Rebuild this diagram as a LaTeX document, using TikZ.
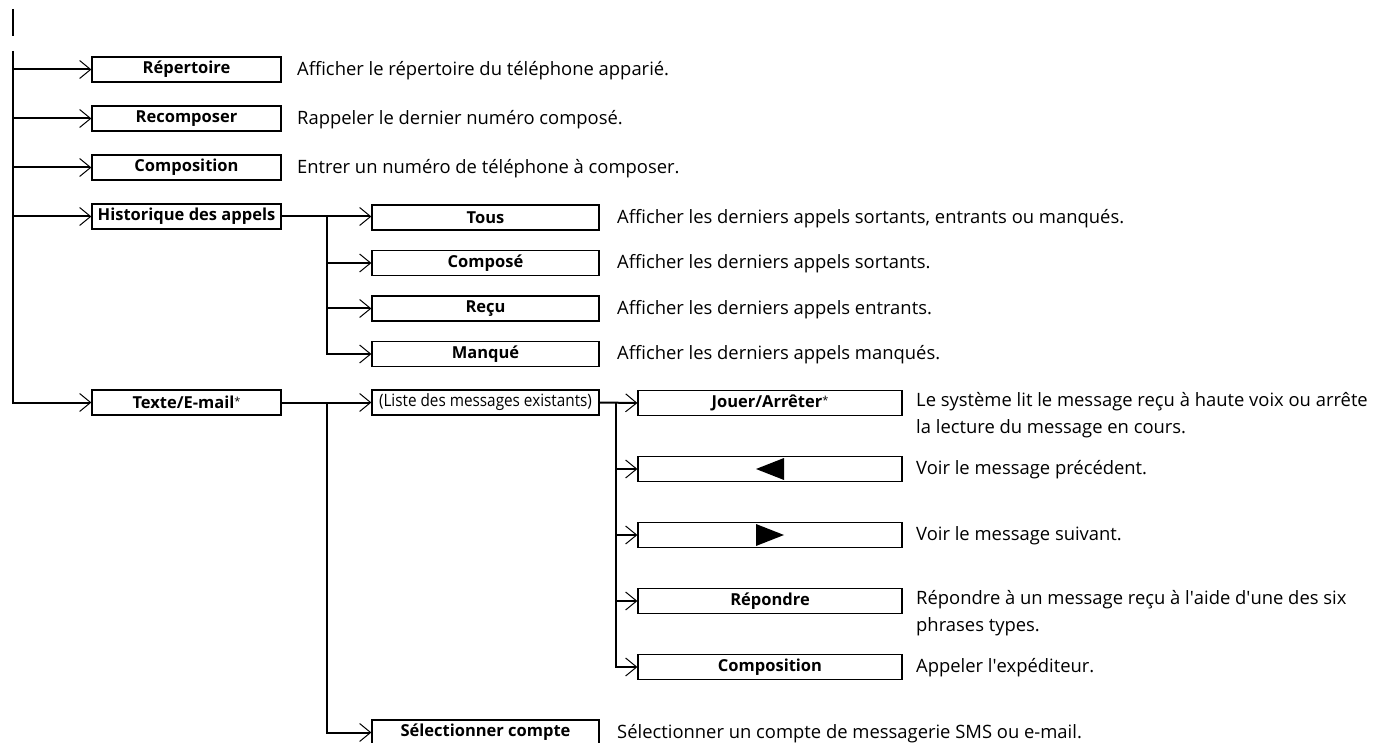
\documentclass[tikz,border=0pt]{standalone}
\usepackage{fontspec}
\setmainfont{Open Sans}
\usetikzlibrary{arrows.meta}
\newcommand{\myast}{{\normalfont\fontsize{11}{11}\selectfont\raisebox{3pt}{*}}}
\begin{document}
\begin{tikzpicture}[x=1pt,y=-1pt,
  box/.style={draw,line width=1.2pt,minimum height=25pt,inner sep=0pt,font=\fontsize{16.5}{18}\selectfont\bfseries},
  bA/.style={box,minimum width=189pt},
  bB/.style={box,minimum width=227pt},
  bC/.style={box,minimum width=264pt},
  desc/.style={anchor=west,inner sep=0pt,font=\fontsize{18.4}{27.5}\selectfont},
  conn/.style={line width=2pt},
  arr/.style={conn,-{Straight Barb[length=11pt,width=18pt,line width=1pt]}},
]
\useasboundingbox (0,0) rectangle (1387,743);
% markers
\coordinate (m1) at (13,9);
\coordinate (m2) at (13,36);
\coordinate (t0) at (13,51);
\coordinate (hj) at (327,0);
\coordinate (lj) at (616,0);
\draw[conn] (m1) -- (m2);

% column A
\node[bA] (rep)  at (186.5,69.5)  {Répertoire};
\node[bA] (rec)  at (186.5,118.5) {Recomposer};
\node[bA] (comp) at (186.5,167.5) {Composition};
\node[bA] (hist) at (186.5,216.5) {Historique des appels};
\node[bA] (txt)  at (186.5,402.5) {Texte/E-mail\myast};

\node[desc] (drep)  at (297,70.5)  {Afficher le répertoire du téléphone apparié.};
\node[desc] (drec)  at (297,119.5) {Rappeler le dernier numéro composé.};
\node[desc] (dcomp) at (297,168.5) {Entrer un numéro de téléphone à composer.};

% column B
\node[bB] (tous) at (485.5,217.5) {Tous};
\node[bB] (cpse) at (485.5,263)   {Composé};
\node[bB] (recu) at (485.5,308.5) {Reçu};
\node[bB] (manq) at (485.5,354)   {Manqué};
\node[bB,font=\fontsize{17}{18}\selectfont] (liste) at (485.5,402.5) {\scalebox{0.9}[1]{(Liste des messages existants)}};
\node[bB] (sel)  at (485.5,732.5) {Sélectionner compte};

\node[desc] (dtous) at (617,218.5) {Afficher les derniers appels sortants, entrants ou manqués.};
\node[desc] (dcpse) at (617,264)   {Afficher les derniers appels sortants.};
\node[desc] (drecu) at (617,309.5) {Afficher les derniers appels entrants.};
\node[desc] (dmanq) at (617,355)   {Afficher les derniers appels manqués.};
\node[desc] (dsel)  at (617,733.5) {Sélectionner un compte de messagerie SMS ou e-mail.};

% column C
\node[bC] (jouer) at (770,403) {Jouer/Arrêter\myast};
\node[bC] (prev)  at (770,469) {};
\node[bC] (next)  at (770,535) {};
\node[bC] (repd)  at (770,601) {Répondre};
\node[bC] (cmpx)  at (770,667) {Composition};
\fill[shift={(prev.center)}] (-14,0) -- (14,-11) -- (14,11) -- cycle;
\fill[shift={(next.center)}] (14,0) -- (-14,-11) -- (-14,11) -- cycle;

\node[desc,anchor=north west,align=left] (djouer) at (916,392) {Le système lit le message reçu à haute voix ou arrête\\la lecture du message en cours.};
\node[desc] (dprev) at (916,470) {Voir le message précédent.};
\node[desc] (dnext) at (916,536) {Voir le message suivant.};
\node[desc,anchor=north west,align=left] (drepd) at (916,590) {Répondre à un message reçu à l\textquotesingle aide d\textquotesingle une des six\\phrases types.};
\node[desc] (dcmpx) at (916,668) {Appeler l\textquotesingle expéditeur.};

% connectors: trunk
\draw[arr] (t0) |- (txt.west);
\draw[arr] (t0 |- rep.west) -- (rep.west);
\draw[arr] (t0 |- rec.west) -- (rec.west);
\draw[arr] (t0 |- comp.west) -- (comp.west);
\draw[arr] (t0 |- hist.west) -- (hist.west);

% history
\draw[arr] (hist.east) -- (tous.west |- hist.east);
\draw[arr] (hj |- hist.east) |- (manq.west);
\draw[arr] (hj |- cpse.west) -- (cpse.west);
\draw[arr] (hj |- recu.west) -- (recu.west);

% text
\draw[arr] (txt.east) -- (liste.west);
\draw[arr] (hj |- txt.east) |- (sel.west);

% message list
\draw[arr] (liste.east) -- (jouer.west);
\draw[arr] (lj |- liste.east) |- (cmpx.west);
\draw[arr] (lj |- prev.west) -- (prev.west);
\draw[arr] (lj |- next.west) -- (next.west);
\draw[arr] (lj |- repd.west) -- (repd.west);
\end{tikzpicture}
\end{document}
